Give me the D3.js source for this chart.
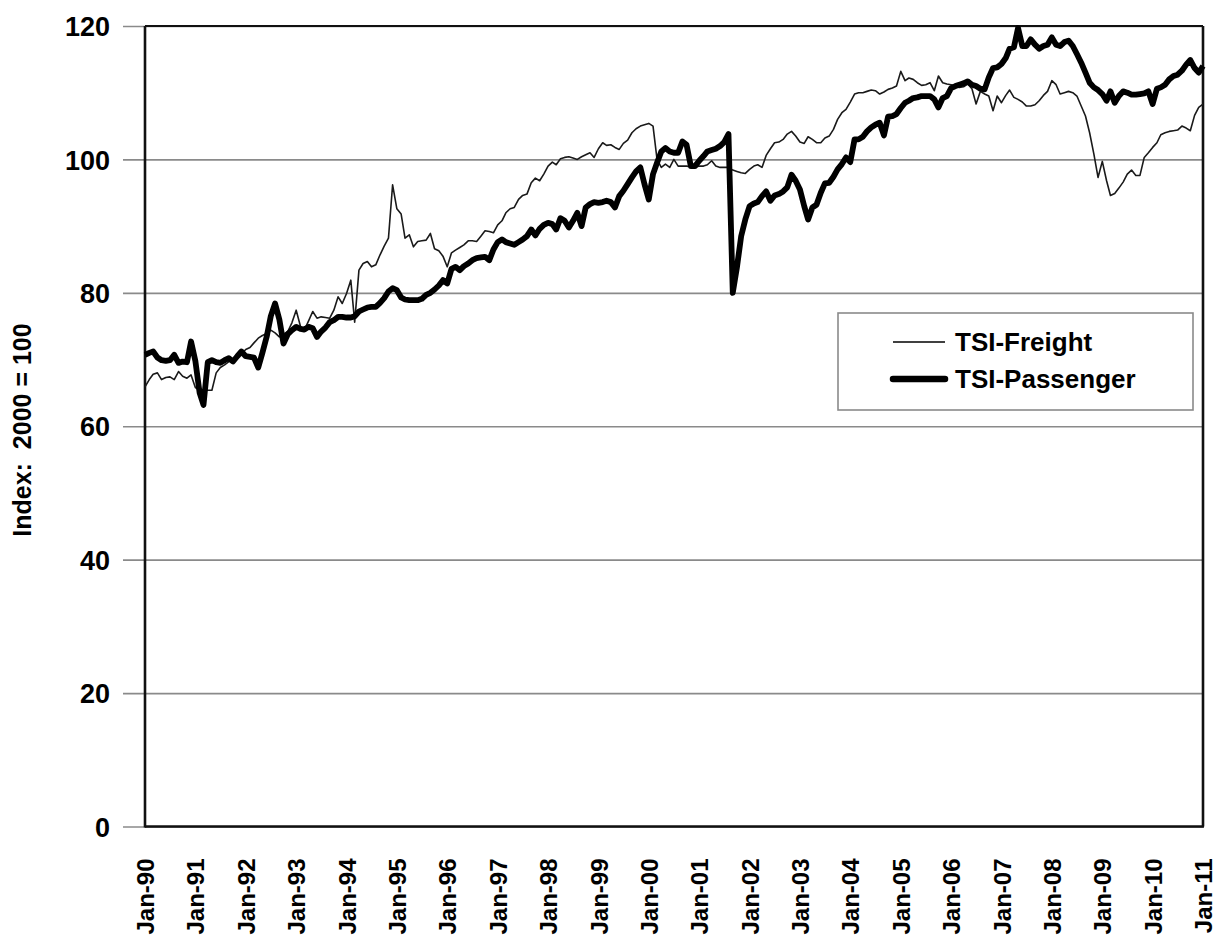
<!DOCTYPE html>
<html>
<head>
<meta charset="utf-8">
<script src="https://cdn.jsdelivr.net/npm/d3@7/dist/d3.min.js"></script>
<style>
  html, body { margin: 0; padding: 0; background: #fff; }
  svg { display: block; }
  text { font-family: "Liberation Sans", Arial, sans-serif; font-weight: bold; fill: #000; }
</style>
</head>
<body>
<svg id="chart" width="1217" height="941"></svg>
<script>
// Monthly Transportation Services Index, Jan 1990 – Jan 2011 (2000 = 100)
const startMonth = new Date(1990, 0, 1);

const freight = [
  // 1990
  65.9, 67.0, 67.8, 68.0, 67.0, 67.3, 67.4, 67.0, 68.2, 67.5, 67.2, 67.7,
  // 1991
  65.8, 65.4, 65.4, 65.4, 65.4, 68.0, 68.8, 69.2, 69.7, 70.0, 70.4, 70.8,
  // 1992
  71.5, 71.8, 72.5, 73.2, 73.6, 73.9, 74.4, 74.0, 73.4, 73.8, 74.2, 75.5,
  // 1993
  77.4, 75.0, 74.4, 75.8, 77.2, 76.2, 76.4, 76.3, 76.2, 77.4, 79.4, 78.4,
  // 1994
  79.9, 81.9, 75.6, 83.4, 84.4, 84.7, 83.9, 84.2, 85.7, 87.0, 88.2, 96.2,
  // 1995
  92.6, 91.8, 88.2, 88.7, 86.9, 87.7, 87.8, 87.9, 88.9, 86.6, 86.3, 85.5,
  // 1996
  83.9, 86.0, 86.4, 86.8, 87.2, 87.8, 87.8, 87.7, 88.5, 89.3, 89.2, 89.0,
  // 1997
  90.2, 90.8, 92.0, 92.6, 92.8, 94.0, 94.6, 94.8, 96.5, 97.2, 96.8, 97.8,
  // 1998
  99.0, 99.6, 99.2, 100.1, 100.3, 100.4, 100.2, 100.0, 100.4, 100.7, 101.0, 100.3,
  // 1999
  101.6, 102.5, 102.1, 102.2, 101.8, 101.5, 102.4, 102.9, 104.0, 104.6, 105.0, 105.2,
  // 2000
  105.4, 105.0, 100.0, 98.8, 99.3, 98.8, 100.0, 99.0, 99.0, 99.0, 98.9, 98.9,
  // 2001
  99.0, 99.0, 99.2, 99.8, 99.0, 98.8, 98.8, 98.8, 98.4, 98.2, 98.0, 97.9,
  // 2002
  98.5, 99.0, 99.2, 98.8, 100.6, 101.6, 102.5, 102.6, 103.0, 103.8, 104.2, 103.5,
  // 2003
  102.6, 102.4, 103.4, 103.0, 102.5, 102.5, 103.2, 103.5, 104.5, 106.0, 107.0, 107.5,
  // 2004
  108.6, 109.8, 110.0, 110.0, 110.2, 110.4, 110.3, 109.8, 110.1, 110.5, 110.7, 111.0,
  // 2005
  113.2, 111.8, 112.2, 112.0, 111.5, 111.1, 111.2, 111.5, 110.3, 112.5, 111.5, 111.3,
  // 2006
  111.2, 111.0, 110.8, 110.9, 111.3, 110.6, 108.3, 110.2, 109.8, 109.5, 107.3, 109.5,
  // 2007
  108.5, 109.6, 110.4, 109.3, 109.0, 108.6, 108.0, 108.0, 108.2, 108.8, 109.6, 110.2,
  // 2008
  111.8, 111.2, 109.8, 110.0, 110.2, 110.0, 109.5, 108.0, 106.5, 104.0, 100.8, 97.3,
  // 2009
  99.7, 96.8, 94.6, 94.9, 95.7, 96.6, 97.8, 98.4, 97.6, 97.6, 100.3, 101.0,
  // 2010
  101.8, 102.5, 103.7, 104.0, 104.2, 104.3, 104.4, 105.0, 104.7, 104.3, 106.6, 107.8,
  // 2011
  108.3
];

const passenger = [
  // 1990
  70.7, 71.0, 71.2, 70.3, 69.9, 69.8, 69.9, 70.7, 69.5, 69.7, 69.6, 72.7,
  // 1991
  69.8, 65.0, 63.2, 69.6, 69.9, 69.6, 69.5, 69.9, 70.2, 69.7, 70.5, 71.2,
  // 1992
  70.5, 70.4, 70.3, 68.8, 71.0, 73.4, 76.5, 78.4, 76.0, 72.4, 73.8, 74.4,
  // 1993
  74.9, 74.6, 74.5, 74.9, 74.7, 73.4, 74.2, 74.8, 75.6, 75.9, 76.4, 76.4,
  // 1994
  76.3, 76.3, 76.5, 77.2, 77.5, 77.8, 77.9, 77.9, 78.5, 79.2, 80.2, 80.7,
  // 1995
  80.4, 79.3, 79.0, 78.9, 78.9, 78.9, 79.1, 79.7, 80.0, 80.5, 81.1, 81.9,
  // 1996
  81.4, 83.6, 83.9, 83.4, 84.0, 84.4, 84.9, 85.2, 85.3, 85.4, 84.9, 86.5,
  // 1997
  87.6, 88.0, 87.6, 87.4, 87.2, 87.6, 88.0, 88.5, 89.5, 88.6, 89.6, 90.2,
  // 1998
  90.5, 90.3, 89.5, 91.2, 90.8, 89.8, 90.8, 92.0, 90.0, 92.8, 93.3, 93.6,
  // 1999
  93.5, 93.6, 93.8, 93.6, 92.8, 94.5, 95.3, 96.3, 97.3, 98.2, 98.8, 96.3,
  // 2000
  94.0, 97.8, 99.5, 101.2, 101.7, 101.2, 101.0, 101.0, 102.7, 102.2, 99.0, 99.0,
  // 2001
  99.8, 100.5, 101.2, 101.4, 101.6, 102.0, 102.6, 103.8, 80.0, 83.8, 88.5, 91.0,
  // 2002
  93.0, 93.4, 93.6, 94.5, 95.2, 93.8, 94.6, 94.8, 95.2, 95.8, 97.7, 96.8,
  // 2003
  95.5, 93.0, 91.0, 92.8, 93.2, 95.0, 96.4, 96.5, 97.4, 98.5, 99.3, 100.3,
  // 2004
  99.6, 103.0, 103.0, 103.4, 104.2, 104.8, 105.2, 105.5, 103.6, 106.4, 106.5, 106.8,
  // 2005
  107.7, 108.5, 108.8, 109.2, 109.3, 109.5, 109.5, 109.5, 109.0, 107.8, 109.2, 109.5,
  // 2006
  110.7, 111.0, 111.2, 111.4, 111.7, 111.2, 111.0, 110.6, 110.5, 112.3, 113.7, 113.8,
  // 2007
  114.3, 115.2, 116.6, 116.8, 119.7, 117.0, 117.0, 118.0, 117.2, 116.6, 117.0, 117.2,
  // 2008
  118.3, 117.2, 117.0, 117.6, 117.8, 117.0, 115.8, 114.5, 113.0, 111.5, 110.8, 110.4,
  // 2009
  109.8, 108.8, 110.2, 108.5, 109.5, 110.2, 110.0, 109.7, 109.7, 109.8, 109.9, 110.2,
  // 2010
  108.3, 110.6, 110.8, 111.2, 112.0, 112.5, 112.7, 113.3, 114.2, 114.9, 113.7, 113.0,
  // 2011
  114.0
];

const yTickValues = [0, 20, 40, 60, 80, 100, 120];
const xTickYears = d3.range(1990, 2012);
const seriesNames = ["TSI-Freight", "TSI-Passenger"];
const yAxisTitle = "Index:  2000 = 100";

// Layout
const plot = { left: 145, right: 1203, top: 26, bottom: 826.5 };

const svg = d3.select("#chart");

const x = d3.scaleTime()
  .domain([startMonth, new Date(2011, 0, 1)])
  .range([plot.left, plot.right]);

const y = d3.scaleLinear()
  .domain([0, 120])
  .range([plot.bottom, plot.top]);

const monthDate = i => d3.timeMonth.offset(startMonth, i);

// Horizontal gridlines with their tick stubs on the left
const yAxis = d3.axisLeft(y)
  .tickValues(yTickValues)
  .tickSize(plot.right - plot.left + 22)
  .tickPadding(13)
  .tickFormat(d3.format("d"));

const gy = svg.append("g")
  .attr("transform", `translate(${plot.right},0)`)
  .call(yAxis);
gy.select(".domain").remove();
gy.selectAll(".tick line")
  .attr("stroke", "#8a8a8a")
  .attr("stroke-width", 1.6);
gy.selectAll(".tick text")
  .attr("x", -(plot.right - 110))
  .attr("dy", "0.36em")
  .style("font-size", "27px")
  .style("font-family", "'Liberation Sans', Arial, sans-serif")
  .style("font-weight", "bold");

// Year labels below the plot, rotated
const xAxis = d3.axisBottom(x)
  .tickValues(xTickYears.map(yr => new Date(yr, 0, 1)))
  .tickSize(0)
  .tickFormat(d3.timeFormat("%b-%y"));

const gx = svg.append("g")
  .attr("transform", `translate(0,${plot.bottom})`)
  .call(xAxis);
gx.select(".domain").remove();
gx.selectAll(".tick text")
  .attr("transform", "rotate(-90)")
  .attr("text-anchor", "end")
  .attr("x", -32)
  .attr("y", 0)
  .attr("dy", "0.36em")
  .style("font-size", "24px")
  .style("font-family", "'Liberation Sans', Arial, sans-serif")
  .style("font-weight", "bold");

// Plot frame
svg.append("line")
  .attr("x1", plot.left).attr("x2", plot.right)
  .attr("y1", plot.top).attr("y2", plot.top)
  .attr("stroke", "#111").attr("stroke-width", 2.2);
svg.append("line")
  .attr("x1", plot.right).attr("x2", plot.right)
  .attr("y1", plot.top).attr("y2", plot.bottom)
  .attr("stroke", "#111").attr("stroke-width", 2.6);
svg.append("line")
  .attr("x1", plot.left).attr("x2", plot.left)
  .attr("y1", plot.top).attr("y2", plot.bottom + 1)
  .attr("stroke", "#111").attr("stroke-width", 2.6);
svg.append("line")
  .attr("x1", plot.left).attr("x2", plot.right + 1)
  .attr("y1", plot.bottom).attr("y2", plot.bottom)
  .attr("stroke", "#111").attr("stroke-width", 2.6);

// Series lines
const line = d3.line()
  .x((d, i) => x(monthDate(i)))
  .y(d => y(d));

svg.append("path")
  .datum(freight)
  .attr("fill", "none")
  .attr("stroke", "#1a1a1a")
  .attr("stroke-width", 1.6)
  .attr("stroke-linejoin", "round")
  .attr("d", line);

svg.append("path")
  .datum(passenger)
  .attr("fill", "none")
  .attr("stroke", "#000")
  .attr("stroke-width", 5.8)
  .attr("stroke-linejoin", "round")
  .attr("d", line);

// Y axis title (keeps its double space)
svg.append("text")
  .attr("transform", "translate(31,430) rotate(-90)")
  .attr("text-anchor", "middle")
  .attr("xml:space", "preserve")
  .style("white-space", "pre")
  .style("font-size", "25px")
  .text(yAxisTitle);

// Legend
const legend = svg.append("g").attr("transform", "translate(838,313)");
legend.append("rect")
  .attr("width", 355).attr("height", 97)
  .attr("fill", "#fff")
  .attr("stroke", "#8a8a8a")
  .attr("stroke-width", 1.6);

const legendWidths = [1.6, 6.5];
seriesNames.forEach((name, i) => {
  const ly = 29 + i * 37;
  legend.append("line")
    .attr("x1", 55).attr("x2", 107)
    .attr("y1", ly).attr("y2", ly)
    .attr("stroke", "#000")
    .attr("stroke-width", legendWidths[i])
    .attr("stroke-linecap", i ? "round" : "butt");
  legend.append("text")
    .attr("x", 117)
    .attr("y", ly)
    .attr("dy", "0.36em")
    .style("font-size", "26px")
    .text(name);
});
</script>
</body>
</html>
